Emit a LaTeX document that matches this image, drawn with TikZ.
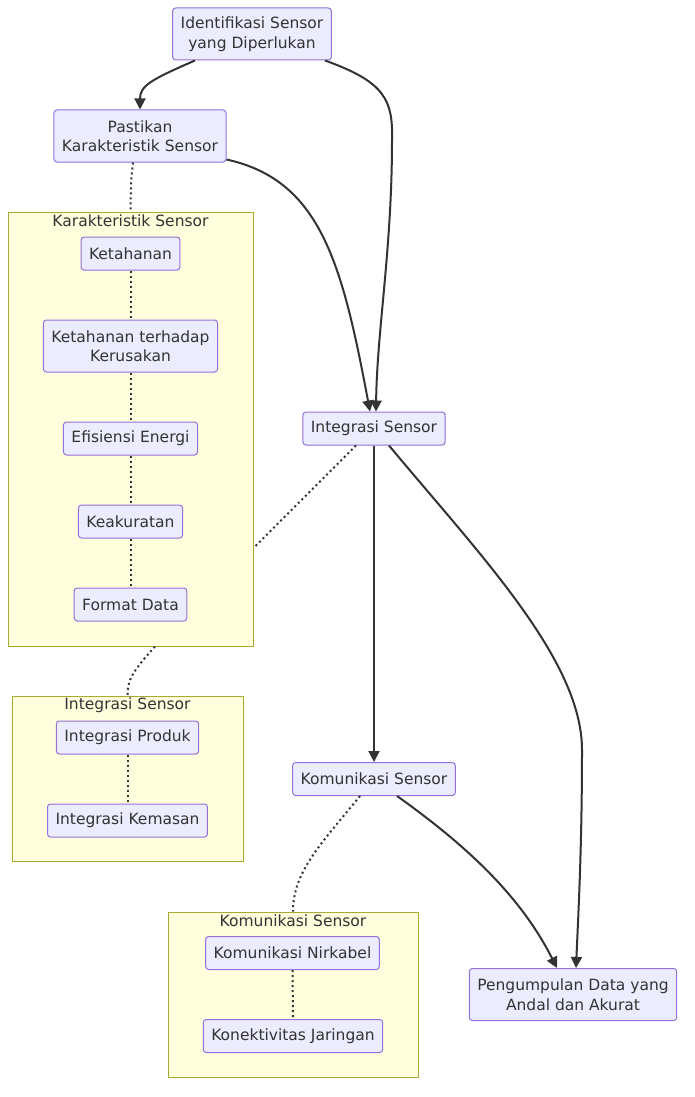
\documentclass[tikz,border=0pt]{standalone}
\usepackage{fontspec}
\setmainfont{DejaVu Sans}
\usetikzlibrary{arrows.meta}
\definecolor{nodefill}{HTML}{ECECFF}
\definecolor{nodeline}{HTML}{9370DB}
\definecolor{clfill}{HTML}{FFFFDE}
\definecolor{clline}{HTML}{AAAA33}
\definecolor{ink}{HTML}{333333}
\tikzset{
  box/.style={draw=nodeline, fill=nodefill, line width=1pt, rounded corners=3pt,
    inner xsep=8pt, inner ysep=0pt, minimum height=33pt, align=center, text=ink,
    font=\fontsize{15.5}{19.5}\selectfont},
  box2/.style={box, minimum height=52pt},
  cluster/.style={draw=clline, fill=clfill, line width=1pt, inner sep=0pt},
  cltitle/.style={text=ink, font=\fontsize{15.5}{19.5}\selectfont, inner sep=0pt},
  arr/.style={draw=ink, line width=2pt, -{Triangle[length=11pt,width=11pt]}},
  dots/.style={draw=ink, line width=2pt, dash pattern=on 2pt off 3pt},
}
\begin{document}
\begin{tikzpicture}[x=1pt,y=-1pt]
\fill[white] (0,0) rectangle (694,1097);
\useasboundingbox (0,0) rectangle (694,1097);
% clusters
\node[cluster, minimum width=245pt, minimum height=434pt] (karak) at (130.5,429) {};
\node[cltitle] (karakt) at (130.5,221) {Karakteristik Sensor};
\node[cluster, minimum width=231pt, minimum height=165pt] (intcl) at (127.5,778.5) {};
\node[cltitle] (intclt) at (127.5,705) {Integrasi Sensor};
\node[cluster, minimum width=250pt, minimum height=165pt] (komcl) at (293,994.5) {};
\node[cltitle] (komclt) at (293,921) {Komunikasi Sensor};
% nodes
\node[box2] (ident) at (252,34) {Identifikasi Sensor\\yang Diperlukan};
\node[box2] (past) at (140,136) {Pastikan\\Karakteristik Sensor};
\node[box] (ket) at (130.5,253.5) {Ketahanan};
\node[box2] (ketk) at (130.5,346) {Ketahanan terhadap\\Kerusakan};
\node[box] (efis) at (130.5,438.5) {Efisiensi Energi};
\node[box] (akur) at (130.5,521.5) {Keakuratan};
\node[box] (fmt) at (130.5,604.5) {Format Data};
\node[box] (integ) at (374,428.5) {Integrasi Sensor};
\node[box] (iprod) at (127.5,737.5) {Integrasi Produk};
\node[box] (ikem) at (127.5,820.5) {Integrasi Kemasan};
\node[box] (kom) at (374,779) {Komunikasi Sensor};
\node[box] (nirk) at (292.5,953) {Komunikasi Nirkabel};
\node[box] (konj) at (293,1036) {Konektivitas Jaringan};
\node[box2] (peng) at (573,994.5) {Pengumpulan Data yang\\Andal dan Akurat};
% solid arrows
\draw[arr] ([xshift=-57pt]ident.south) .. controls (150,80) and (140,86) .. (past.north);
\draw[arr] ([xshift=73pt]ident.south) .. controls (385,82) and (393,100) .. (392,140)
  .. controls (392,250) and (377,330) .. ([xshift=2pt]integ.north);
\draw[arr] ([yshift=3pt]past.south east) .. controls (320,180) and (342,262) .. ([xshift=-4pt]integ.north);
\draw[arr] (integ.south) -- (kom.north);
\draw[arr] ([xshift=15pt]integ.south) .. controls (480,555) and (582,660) .. (582,750)
  .. controls (582,850) and (578,920) .. ([xshift=3pt]peng.north);
\draw[arr] ([xshift=23pt]kom.south) .. controls (480,855) and (525,905) .. ([xshift=-16pt]peng.north);
% dotted links
\draw[dots] ([xshift=-7pt]past.south) .. controls (131,180) .. (karak.north);
\draw[dots] (ket.south) -- (ketk.north);
\draw[dots] (ketk.south) -- (efis.north);
\draw[dots] (efis.south) -- (akur.north);
\draw[dots] (akur.south) -- (fmt.north);
\draw[dots] ([xshift=-18pt]integ.south) -- ([yshift=-119pt]karak.east);
\draw[dots] ([xshift=24.5pt]karak.south) .. controls (132,672) and (127.5,680) .. (intcl.north);
\draw[dots] (iprod.south) -- (ikem.north);
\draw[dots] ([xshift=-14pt]kom.south) .. controls (320,845) and (293,872) .. (komcl.north);
\draw[dots] (nirk.south) -- (konj.north);
\end{tikzpicture}
\end{document}
